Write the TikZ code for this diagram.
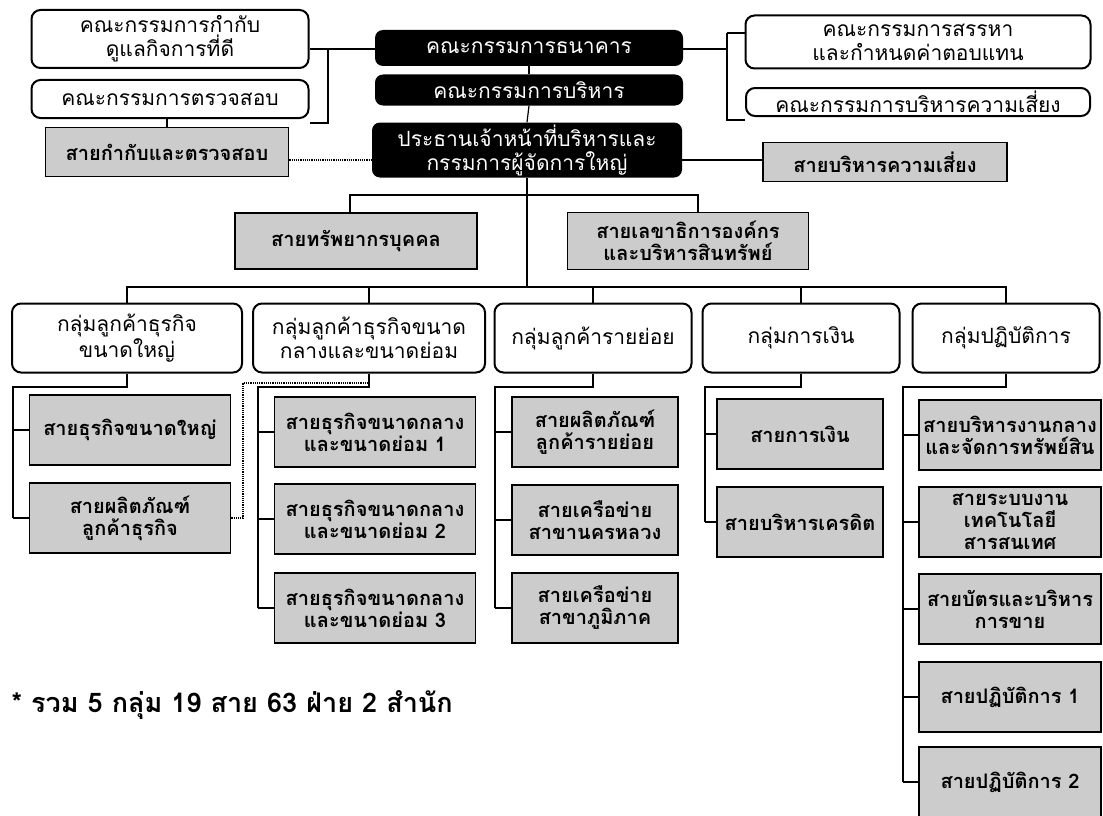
\documentclass[tikz,border=0pt]{standalone}
\usepackage{fontspec}
\setmainfont[Script=Thai]{Loma}
\usepackage{tikz}
\definecolor{unitgray}{gray}{0.8}
\tikzset{boardbox/.style={shape=rectangle,rounded corners=8pt,fill=black,text=white,inner sep=0pt,align=center,font=\fontsize{21}{24}\selectfont}}
\tikzset{cmtebox/.style={shape=rectangle,rounded corners=9pt,draw=black,line width=2pt,fill=white,inner sep=0pt,align=center,font=\fontsize{21}{24}\selectfont}}
\tikzset{unitbox/.style={shape=rectangle,draw=black,line width=1.6pt,fill=unitgray,inner sep=0pt,align=center,font=\bfseries\fontsize{20}{22}\selectfont}}
\tikzset{link/.style={line width=1.2pt}}

\begin{document}
\begin{tikzpicture}[x=1pt,y=-1pt]
            \useasboundingbox (0,0) rectangle (1103,816);
            % setup the top nodes
            \node[boardbox,minimum width=308pt,minimum height=36pt] (bod) at (529,48) {คณะกรรมการธนาคาร};
            \node[boardbox,minimum width=308pt,minimum height=31pt] (exe) at (529,90) {คณะกรรมการบริหาร};
            \node[boardbox,minimum width=310pt,minimum height=55pt] (ceo) at (527,150) {ประธานเจ้าหน้าที่บริหารและ\\กรรมการผู้จัดการใหญ่};
            \node[cmtebox,minimum width=277pt,minimum height=58pt] (gov) at (170,39) {คณะกรรมการกำกับ\\ดูแลกิจการที่ดี};
            \node[cmtebox,minimum width=277pt,minimum height=38pt] (aud) at (170,99) {คณะกรรมการตรวจสอบ};
            \node[cmtebox,minimum width=345pt,minimum height=53pt] (nom) at (918,42) {คณะกรรมการสรรหา\\และกำหนดค่าตอบแทน};
            \node[cmtebox,minimum width=344pt,minimum height=28pt] (rsk) at (918,102) {คณะกรรมการบริหารความเสี่ยง};
            \node[unitbox,minimum width=243pt,minimum height=49pt] (ctl) at (167,152) {สายกำกับและตรวจสอบ};
            \node[unitbox,minimum width=244pt,minimum height=39pt] (rmu) at (885,162) {สายบริหารความเสี่ยง};
            \node[unitbox,minimum width=242pt,minimum height=56pt] (hr) at (356,241) {สายทรัพยากรบุคคล};
            \node[unitbox,minimum width=241pt,minimum height=57pt] (sec) at (688,241) {สายเลขาธิการองค์กร\\และบริหารสินทรัพย์};
            % top connectors
            \coordinate (lj) at (328,49);
            \coordinate (rj) at (727,49);
            \draw[link] (gov.east |- lj) -- (lj) -- (bod.west |- lj);
            \draw[link] (lj) |- ([yshift=-4pt]aud.south east);
            \draw[link] (bod.east |- rj) -- (rj);
            \draw[link] (rj |- 0,33) |- ([yshift=-3pt]rsk.south west);
            \draw[link] (rj |- 0,33) -- (nom.west |- 0,33);
            \draw[link] (aud.south -| ctl.north) -- (ctl.north);
            \draw[link,densely dotted] (ctl.east |- 0,160) -- (ceo.west |- 0,160);
            \draw[link] (ceo.east |- 0,160) -- (rmu.west |- 0,160);
            \draw[link] (bod.south) -- (exe.north);
            \draw[link] (exe.south) -- (ceo.north);
            \coordinate (gb) at (527,287);
            \coordinate (hb) at (527,195);
            \draw[link] (ceo.south) -- (gb);
            \draw[link] ([xshift=-6pt]hr.north) |- (hb) -| ([xshift=10pt]sec.north);
            % setup the groups
            \foreach \k/\x/\w/\t in {1/127/230/{กลุ่มลูกค้าธุรกิจ\\ขนาดใหญ่},2/369/232/{กลุ่มลูกค้าธุรกิจขนาด\\กลางและขนาดย่อม},3/593/197/{กลุ่มลูกค้ารายย่อย},4/801/197/{กลุ่มการเงิน},5/1006/187/{กลุ่มปฏิบัติการ}}
            {
                \node[cmtebox,minimum width=\w pt,minimum height=69pt] (g\k) at (\x,338) {\t};
            }
            \draw[link] (g1.north) |- (gb) -| (g5.north);
            \foreach \k in {2,3,4}
            {
                \draw[link] (g\k.north) -- (g\k.north |- gb);
            }
            % setup the units below each group
            \foreach \k/\i/\y/\t in {1/1/430/{สายธุรกิจขนาดใหญ่},1/2/518/{สายผลิตภัณฑ์\\ลูกค้าธุรกิจ},
                2/1/432/{สายธุรกิจขนาดกลาง\\และขนาดย่อม 1},2/2/519/{สายธุรกิจขนาดกลาง\\และขนาดย่อม 2},2/3/608/{สายธุรกิจขนาดกลาง\\และขนาดย่อม 3},
                3/1/432/{สายผลิตภัณฑ์\\ลูกค้ารายย่อย},3/2/520/{สายเครือข่าย\\สาขานครหลวง},3/3/608/{สายเครือข่าย\\สาขาภูมิภาค},
                4/1/434/{สายการเงิน},4/2/522/{สายบริหารเครดิต},
                5/1/435/{สายบริหารงานกลาง\\และจัดการทรัพย์สิน},5/2/522/{สายระบบงาน\\เทคโนโลยี\\สารสนเทศ},5/3/609/{สายบัตรและบริหาร\\การขาย},5/4/697/{สายปฏิบัติการ 1},5/5/782/{สายปฏิบัติการ 2}}
            {
                \ifcase\k\or
                    \def\ux{130}\def\uw{201}\def\bx{13}\or
                    \def\ux{375}\def\uw{201}\def\bx{258}\or
                    \def\ux{595}\def\uw{166}\def\bx{495}\or
                    \def\ux{800}\def\uw{166}\def\bx{705}\or
                    \def\ux{1010}\def\uw{182}\def\bx{903}\fi
                \node[unitbox,minimum width=\uw pt,minimum height=70pt] (u\k\i) at (\ux,\y) {\t};
                \draw[link] (u\k\i.west) -- (\bx,\y);
            }
            % brackets from groups to units
            \foreach \k/\bx/\last in {1/13/2,2/258/3,3/495/3,4/705/2,5/903/5}
            {
                \coordinate (b\k) at (\bx,387);
                \draw[link] (g\k.south) |- (b\k) -- (b\k |- u\k\last.west);
            }
            \draw[link,densely dotted] (u12.east) -| (243,383) -- (g2.south |- 0,383);
            % note
            \node[anchor=west,font=\bfseries\fontsize{27}{30}\selectfont] (note) at (8,705) {* รวม 5 กลุ่ม 19 สาย 63 ฝ่าย 2 สำนัก};
        \end{tikzpicture}
\end{document}
